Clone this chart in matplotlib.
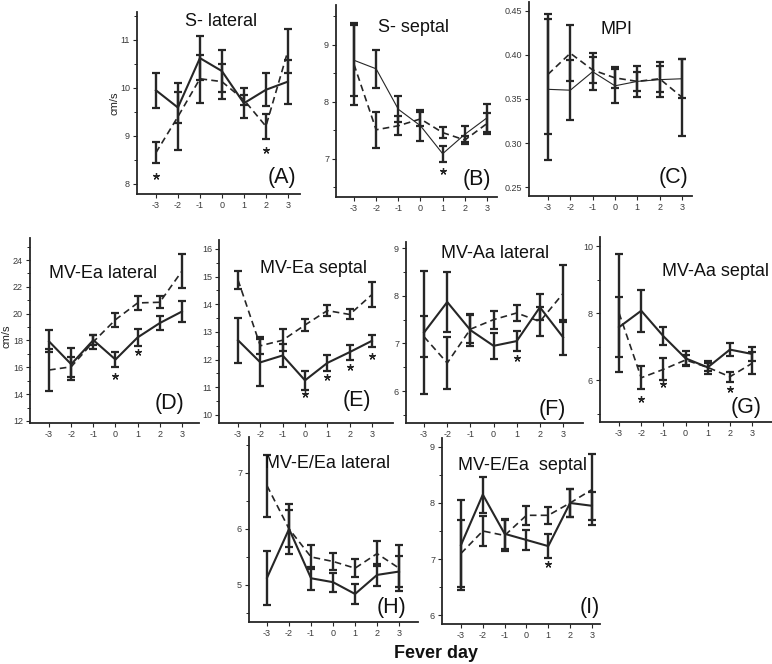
import matplotlib
matplotlib.use('Agg')
import matplotlib.pyplot as plt
from matplotlib.ticker import MultipleLocator, FormatStrFormatter, FixedLocator

plt.rcParams['font.family'] = ['Liberation Sans', 'DejaVu Sans']
plt.rcParams['axes.unicode_minus'] = False

days = [-3, -2, -1, 0, 1, 2, 3]
day_labels = ['-3', '-2', '-1', '0', '1', '2', '3']

titles = ['S- lateral', 'S- septal', 'MPI', 'MV-Ea lateral', 'MV-Ea septal',
          'MV-Aa lateral', 'MV-Aa septal', 'MV-E/Ea lateral', 'MV-E/Ea  septal']
letters = ['(A)', '(B)', '(C)', '(D)', '(E)', '(F)', '(G)', '(H)', '(I)']

# Panel A: S- lateral
a_solid = [9.95, 9.59, 10.62, 10.35, 9.68, 9.96, 10.13]
a_solid_err = [0.36, 0.32, 0.46, 0.43, 0.31, 0.34, 0.46]
a_dashed = [8.65, 9.40, 10.19, 10.13, 9.75, 9.20, 10.77]
a_dashed_err = [0.22, 0.70, 0.50, 0.36, 0.10, 0.26, 0.45]
a_star_days = [-3, 2]
a_star_vals = [8.17, 8.71]

# Panel B: S- septal
b_solid = [8.73, 8.58, 7.87, 7.58, 7.09, 7.43, 7.72]
b_solid_err = [0.62, 0.33, 0.23, 0.27, 0.14, 0.14, 0.25]
b_dashed = [8.66, 7.51, 7.58, 7.70, 7.46, 7.33, 7.62]
b_dashed_err = [0.72, 0.32, 0.17, 0.12, 0.09, 0.07, 0.18]
b_star_days = [1]
b_star_vals = [6.78]

# Panel C: MPI
c_solid = [0.361, 0.360, 0.381, 0.365, 0.370, 0.372, 0.373]
c_solid_err = [0.080, 0.034, 0.021, 0.019, 0.018, 0.020, 0.022]
c_dashed = [0.378, 0.402, 0.383, 0.374, 0.370, 0.373, 0.352]
c_dashed_err = [0.068, 0.032, 0.015, 0.012, 0.011, 0.015, 0.044]
c_star_days = []
c_star_vals = []

# Panel D: MV-Ea lateral
d_solid = [17.93, 16.23, 18.03, 16.58, 18.23, 19.30, 20.16]
d_solid_err = [0.82, 1.21, 0.40, 0.58, 0.62, 0.52, 0.80]
d_dashed = [15.80, 16.04, 17.90, 19.55, 20.80, 20.85, 23.17]
d_dashed_err = [1.60, 0.76, 0.50, 0.52, 0.50, 0.45, 1.28]
d_star_days = [0, 1]
d_star_vals = [15.38, 17.16]

# Panel E: MV-Ea septal
e_solid = [12.70, 11.90, 12.15, 11.25, 11.88, 12.27, 12.68]
e_solid_err = [0.82, 0.85, 0.40, 0.33, 0.30, 0.27, 0.22]
e_dashed = [14.88, 12.50, 12.70, 13.25, 13.77, 13.63, 14.35]
e_dashed_err = [0.32, 0.30, 0.40, 0.20, 0.20, 0.18, 0.45]
e_star_days = [0, 1, 2, 3]
e_star_vals = [10.76, 11.38, 11.75, 12.13]

# Panel F: MV-Aa lateral
f_solid = [7.23, 7.87, 7.28, 6.95, 7.05, 7.76, 7.13]
f_solid_err = [1.30, 0.63, 0.34, 0.27, 0.21, 0.27, 0.37]
f_dashed = [7.14, 6.59, 7.30, 7.50, 7.64, 7.46, 8.05]
f_dashed_err = [0.43, 0.54, 0.30, 0.19, 0.16, 0.31, 0.60]
f_star_days = [1]
f_star_vals = [6.69]

# Panel G: MV-Aa septal
g_solid = [7.58, 8.07, 7.31, 6.65, 6.38, 6.91, 6.78]
g_solid_err = [0.90, 0.62, 0.27, 0.22, 0.12, 0.19, 0.20]
g_dashed = [8.00, 6.07, 6.32, 6.60, 6.38, 6.10, 6.50]
g_dashed_err = [1.76, 0.35, 0.33, 0.15, 0.20, 0.15, 0.33]
g_star_days = [-2, -1, 2]
g_star_vals = [5.45, 5.87, 5.74]

# Panel H: MV-E/Ea lateral
h_solid = [5.13, 6.00, 5.12, 5.05, 4.84, 5.18, 5.24]
h_solid_err = [0.48, 0.45, 0.21, 0.17, 0.18, 0.20, 0.27]
h_dashed = [6.77, 6.00, 5.50, 5.42, 5.30, 5.56, 5.30]
h_dashed_err = [0.55, 0.33, 0.22, 0.15, 0.16, 0.22, 0.41]
h_star_days = []
h_star_vals = []

# Panel I: MV-E/Ea septal
i_solid = [7.25, 8.15, 7.45, 7.34, 7.23, 8.00, 7.95]
i_solid_err = [0.80, 0.32, 0.27, 0.18, 0.22, 0.25, 0.25]
i_dashed = [7.10, 7.50, 7.42, 7.78, 7.78, 8.00, 8.24]
i_dashed_err = [0.60, 0.27, 0.28, 0.17, 0.15, 0.25, 0.63]
i_star_days = [1]
i_star_vals = [6.91]

W, H = 772, 664
fig = plt.figure(figsize=(W / 100, H / 100), dpi=100)
INK = '#262626'


def fx(x):
    return x / W


def fy(y):
    return 1 - y / H


def panel(idx, rect, xlim, ylim, major, minor, fmt, solid, solid_err, dashed,
          dashed_err, star_days, star_vals, title_xy, letter_xy, solid_lw=1.5):
    x0, top, x1, bottom = rect
    ax = fig.add_axes([fx(x0), fy(bottom), (x1 - x0) / W, (bottom - top) / H])
    ax.set_facecolor('none')
    ax.plot(days, solid, color=INK, lw=solid_lw, clip_on=False)
    ax.plot(days, dashed, color=INK, lw=1.2, ls=(0, (4, 2.5)), clip_on=False)
    for m, e in ((solid, solid_err), (dashed, dashed_err)):
        eb = ax.errorbar(days, m, yerr=e, fmt='none', ecolor=INK, elinewidth=1.7,
                         capsize=3.0, capthick=1.6, clip_on=False)
        for art in eb.lines[1]:
            art.set_clip_on(False)
        for art in eb.lines[2]:
            art.set_clip_on(False)
    if star_days:
        ax.plot(star_days, star_vals, ls='none', marker=(5, 2, 0), ms=5,
                mew=0.9, color=INK, clip_on=False)
    ax.set_xlim(*xlim)
    ax.set_ylim(*ylim)
    ax.xaxis.set_major_locator(FixedLocator(days))
    ax.set_xticklabels(day_labels)
    ax.yaxis.set_major_locator(MultipleLocator(major))
    ax.yaxis.set_major_formatter(FormatStrFormatter(fmt))
    if minor:
        ax.yaxis.set_minor_locator(MultipleLocator(minor))
    for sp in ('top', 'right'):
        ax.spines[sp].set_visible(False)
    for sp in ('left', 'bottom'):
        ax.spines[sp].set_linewidth(1.3)
        ax.spines[sp].set_color(INK)
    ax.tick_params(axis='both', which='major', direction='out', length=3,
                   width=0.8, labelsize=6.5, color=INK, labelcolor='#3a3a3a', pad=2)
    ax.tick_params(axis='y', which='minor', direction='out', length=2,
                   width=0.7, color=INK)
    fig.text(fx(title_xy[0]), fy(title_xy[1]), titles[idx], fontsize=13,
             ha='center', va='center', color='#111111')
    fig.text(fx(letter_xy[0]), fy(letter_xy[1]), letters[idx], fontsize=15.5,
             ha='center', va='center', color='#111111')
    return ax


panel(0, (137, 12, 300, 194), (-3.86, 3.55), (7.79, 11.58), 1, 0.5, '%d',
      a_solid, a_solid_err, a_dashed, a_dashed_err, a_star_days, a_star_vals,
      (221, 21), (282, 177))
panel(1, (336, 5, 497, 197), (-3.81, 3.45), (6.33, 9.70), 1, 0.5, '%d',
      b_solid, b_solid_err, b_dashed, b_dashed_err, b_star_days, b_star_vals,
      (414, 28), (477, 179), solid_lw=0.8)
panel(2, (529, 2, 692, 196), (-3.85, 3.45), (0.2398, 0.4602), 0.05, None, '%.2f',
      c_solid, c_solid_err, c_dashed, c_dashed_err, c_star_days, c_star_vals,
      (617, 29), (674, 178), solid_lw=0.8)
panel(3, (30, 238, 199, 423), (-3.86, 3.77), (11.85, 25.64), 2, 1, '%d',
      d_solid, d_solid_err, d_dashed, d_dashed_err, d_star_days, d_star_vals,
      (103, 273), (170, 404))
panel(4, (219, 240, 393, 423), (-3.85, 3.94), (9.71, 16.32), 1, 0.5, '%d',
      e_solid, e_solid_err, e_dashed, e_dashed_err, e_star_days, e_star_vals,
      (313, 269), (357, 400))
panel(5, (406, 242, 583, 423), (-3.78, 3.86), (5.33, 9.13), 1, 0.5, '%d',
      f_solid, f_solid_err, f_dashed, f_dashed_err, f_star_days, f_star_vals,
      (495, 254), (552, 409))
panel(6, (600, 237, 772, 422), (-3.86, 3.90), (4.75, 10.27), 2, 1, '%d',
      g_solid, g_solid_err, g_dashed, g_dashed_err, g_star_days, g_star_vals,
      (716, 271), (746, 408))
panel(7, (249, 437, 418, 622), (-3.82, 3.86), (4.34, 7.64), 1, 0.5, '%d',
      h_solid, h_solid_err, h_dashed, h_dashed_err, h_star_days, h_star_vals,
      (328, 463), (392, 607))
panel(8, (442, 438, 600, 624), (-3.87, 3.37), (5.84, 9.16), 1, 0.5, '%d',
      i_solid, i_solid_err, i_dashed, i_dashed_err, i_star_days, i_star_vals,
      (523, 466), (590, 607))

fig.text(fx(115), fy(103), 'cm/s', rotation=90, fontsize=8, ha='center',
         va='center', color='#222222')
fig.text(fx(7), fy(336), 'cm/s', rotation=90, fontsize=8, ha='center',
         va='center', color='#222222')
fig.text(fx(436), fy(653), 'Fever day', fontsize=13, fontweight='bold',
         ha='center', va='center', color='#111111')

fig.savefig('out.png', dpi=100, facecolor='white')
